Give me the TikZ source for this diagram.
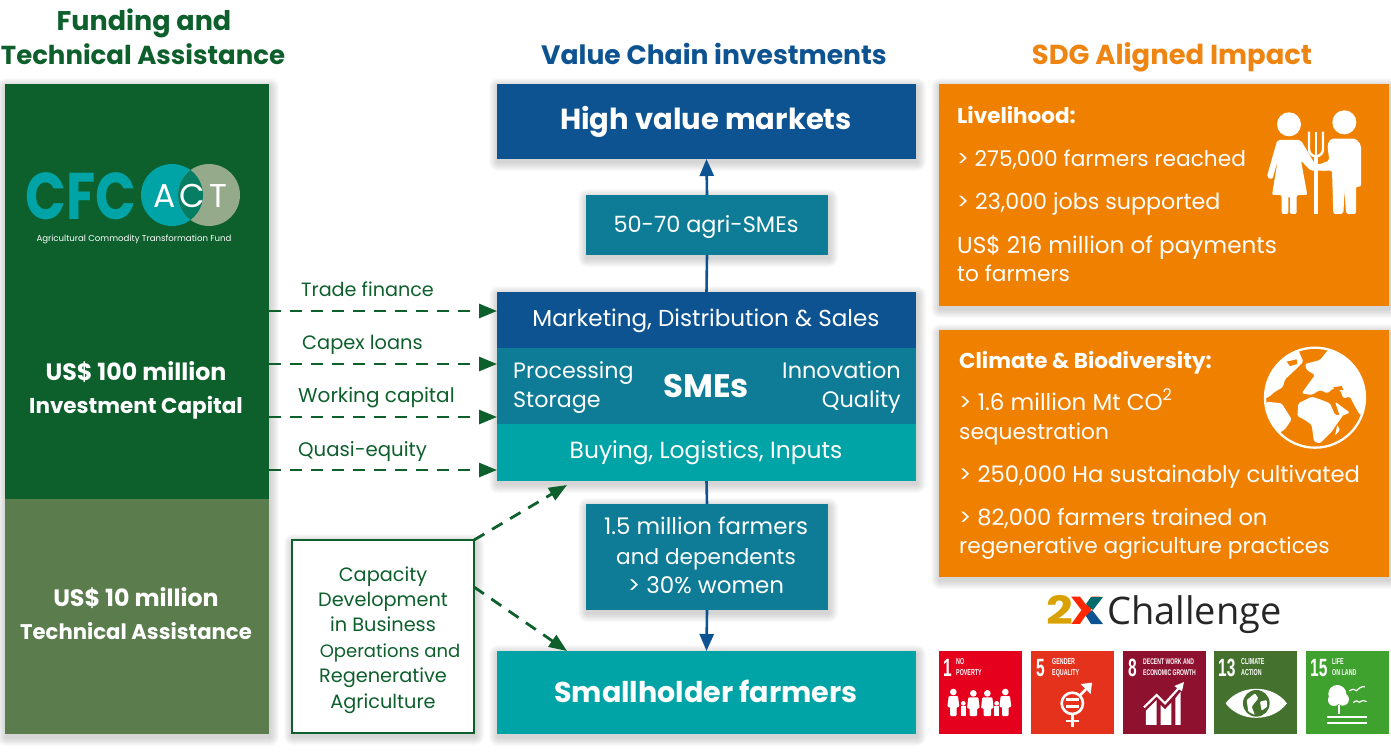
\documentclass[tikz,border=0pt]{standalone}
\usepackage{fontspec}
\usetikzlibrary{arrows.meta,calc}
\setmainfont{Poppins}
\newfontfamily\cond[FakeStretch=0.62]{Liberation Sans}
\newfontfamily\chal{Open Sans}
\definecolor{dgreen}{HTML}{0D5F2C}
\definecolor{lgreen}{HTML}{5B7D4D}
\definecolor{navy}{HTML}{0D5391}
\definecolor{tblue}{HTML}{0E7C96}
\definecolor{teal}{HTML}{00A3A6}
\definecolor{orng}{HTML}{F08000}
\definecolor{hdorng}{HTML}{EE8411}
\newcommand{\softshadow}[4]{\foreach \i in {1,...,9}{\fill[black,opacity=.018,rounded corners=\i pt] ({#1-\i+1},{#2-\i+3}) rectangle ({#3+\i+1},{#4+\i+3});}}
\newcommand{\fs}[1]{\fontsize{#1}{#1}\selectfont}
\tikzset{
 panel/.style={anchor=north west,inner sep=0,outer sep=0},
 wtxt/.style={text=white,inner sep=0,anchor=base},
 wleft/.style={text=white,inner sep=0,anchor=base west},
 gtxt/.style={text=dgreen,inner sep=0,anchor=base west,font=\fs{19.5}},
 cdtxt/.style={text=dgreen,inner sep=0,anchor=base,font=\fs{19.3}},
 flow/.style={draw=dgreen,line width=2.8pt,dash pattern=on 12pt off 9pt,-{Triangle[length=18pt,width=14pt]}},
 solidflow/.style={draw=navy,line width=2.6pt,-{Triangle[length=17pt,width=14pt]}},
 plainflow/.style={draw=navy,line width=2.6pt},
 head/.style={inner sep=0,anchor=base,font=\bfseries\fs{26.6}},
 body/.style={text=white,inner sep=0,anchor=base west,font=\fs{21.7}},
 bodyb/.style={text=white,inner sep=0,anchor=base west,font=\bfseries\fs{21.5}},
 tilet/.style={text=white,inner sep=0,anchor=base west,font=\cond\bfseries\fs{8.6}},
 tilen/.style={text=white,inner sep=0,anchor=base west,font=\cond\bfseries\fs{25}},
 ico/.style={shift={(#1)},x=.3333pt,y=-.3333pt},
}
\begin{document}
\begin{tikzpicture}[x=1pt,y=-1pt]
\useasboundingbox (0,0) rectangle (1391,753);
% shadows
\softshadow{5}{84}{269}{734}
\softshadow{497}{84}{916}{159}
\softshadow{586}{195}{828}{255}
\softshadow{497}{292}{916}{481}
\softshadow{586}{504}{828}{610}
\softshadow{497}{651}{916}{734}
\softshadow{939}{84}{1389}{306}
\softshadow{939}{330}{1389}{577}
\softshadow{292}{540}{474}{733}
% headings
\node[head,text=dgreen,font=\bfseries\fs{27}] (h1a) at (144,30) {Funding and};
\node[head,text=dgreen,font=\bfseries\fs{26}] (h1b) at (143,64) {Technical Assistance};
\node[head,text=navy] (h2) at (714,64) {Value Chain investments};
\node[head,text=hdorng,font=\bfseries\fs{27.4}] (h3) at (1172,64) {SDG Aligned Impact};
% left panels
\node[panel,fill=dgreen,minimum width=264pt,minimum height=415pt] (invest) at (5,84) {};
\node[panel,fill=lgreen,minimum width=264pt,minimum height=235pt] (ta) at (5,499) {};
\node[wtxt,font=\bfseries\fs{23.7}] (i1) at (136,380) {US\$ 100 million};
\node[wtxt,font=\bfseries\fs{21.5}] (i2) at (136,413) {Investment Capital};
\node[wtxt,font=\bfseries\fs{23.7}] (t1) at (136,606) {US\$ 10 million};
\node[wtxt,font=\bfseries\fs{21.2}] (t2) at (136,639) {Technical Assistance};
% logo
\node[inner sep=0,anchor=base,text=teal,font=\fs{66}\bfseries,xscale=.81] (cfc) at (81,219) {CFC};
\fill[fill=teal] (172,195) circle (31);
\fill[fill=lgreen!65!white] (209,195) circle (31);
\begin{scope}
\clip (172,195) circle (31);
\fill[fill=teal!45!dgreen] (209,195) circle (31);
\end{scope}
\node[wtxt,font=\fs{33}] (la) at (165,207) {A};
\node[wtxt,font=\fs{33}] (lc) at (192,207) {C};
\node[wtxt,font=\fs{33}] (lt) at (218,207) {T};
\node[wtxt,font=\fs{8.6}] (lsub) at (134,241) {Agricultural Commodity Transformation Fund};
% centre boxes
\node[panel,fill=navy,minimum width=419pt,minimum height=75pt] (hvm) at (497,84) {};
\node[wtxt,font=\bfseries\fs{29}] at (706,129) (hvmt) {High value markets};
\node[panel,fill=tblue,minimum width=242pt,minimum height=60pt] (agri) at (586,195) {};
\node[wtxt,font=\fs{22.4}] (agrit) at (706,232) {50-70 agri-SMEs};
\node[panel,fill=navy,minimum width=419pt,minimum height=56pt] (mkt) at (497,292) {};
\node[wtxt,font=\fs{23.1}] (mktt) at (706,326) {Marketing, Distribution \& Sales};
\node[panel,fill=tblue,minimum width=419pt,minimum height=76pt] (sme) at (497,348) {};
\node[wtxt,font=\bfseries\fs{32.5}] (smet) at (706,397) {SMEs};
\node[wleft,font=\fs{22.2}] (p1) at (513,378) {Processing};
\node[wleft,font=\fs{22.2}] (p2) at (513,407) {Storage};
\node[wtxt,anchor=base east,font=\fs{22.4}] (p3) at (901,378) {Innovation};
\node[wtxt,anchor=base east,font=\fs{22.4}] (p4) at (901,407) {Quality};
\node[panel,fill=teal,minimum width=419pt,minimum height=57pt] (buy) at (497,424) {};
\node[wtxt,font=\fs{23.4}] (buyt) at (706,458) {Buying, Logistics, Inputs};
\node[panel,fill=tblue,minimum width=242pt,minimum height=106pt] (farm) at (586,504) {};
\node[wtxt,font=\fs{22.9}] (f1) at (706,534) {1.5 million farmers};
\node[wtxt,font=\fs{21.6}] (f2) at (706,564) {and dependents};
\node[wtxt,font=\fs{23}] (f3) at (706,593) {> 30\% women};
\node[panel,fill=teal,minimum width=419pt,minimum height=83pt] (small) at (497,651) {};
\node[wtxt,font=\bfseries\fs{28.6}] (smallt) at (706,702) {Smallholder farmers};
% solid connectors
\draw[solidflow] (agri.north) -- (hvm.south);
\draw[plainflow] (mkt.north) -- (agri.south);
\draw[plainflow] (buy.south) -- (farm.north);
\draw[solidflow] (farm.south) -- (small.north);
% capacity box
\node[panel,draw=dgreen,line width=2.8pt,fill=white,minimum width=182pt,minimum height=193pt] (cap) at (292,540) {};
\node[cdtxt] (c1) at (383,581) {Capacity};
\node[cdtxt] (c2) at (383,606) {Development};
\node[cdtxt] (c3) at (383,631) {in Business};
\node[cdtxt,font=\fs{18}] (c4) at (390,657) {Operations and};
\node[cdtxt] (c5) at (383,682) {Regenerative};
\node[cdtxt] (c6) at (383,708) {Agriculture};
% dashed connectors
\coordinate (a1) at (invest.east |- 0,311);
\coordinate (a2) at (invest.east |- 0,364);
\coordinate (a3) at (invest.east |- 0,417);
\coordinate (a4) at (invest.east |- 0,470);
\draw[flow] (a1) -- (a1 -| mkt.west);
\draw[flow] (a2) -- (a2 -| sme.west);
\draw[flow] (a3) -- (a3 -| sme.west);
\draw[flow] (a4) -- (a4 -| buy.west);
\coordinate (b1) at (cap.north east);
\coordinate (b2) at (474,587);
\coordinate (b3) at (567,485);
\coordinate (b4) at (567,651);
\draw[flow] (b1) -- (b3);
\draw[flow] (b2) -- (b4);
\node[gtxt,font=\fs{19.2}] (l1) at (301,296) {Trade finance};
\node[gtxt,font=\fs{19.4}] (l2) at (302,349) {Capex loans};
\node[gtxt,font=\fs{20}] (l3) at (298,402) {Working capital};
\node[gtxt,font=\fs{19.7}] (l4) at (298,456) {Quasi-equity};
% orange
\node[panel,fill=orng,minimum width=450pt,minimum height=222pt] (o1) at (939,84) {};
\node[panel,fill=orng,minimum width=450pt,minimum height=247pt] (o2) at (939,330) {};
\node[bodyb] (o1a) at (957,123) {Livelihood:};
\node[body] (o1b) at (957,166) {> 275,000 farmers reached};
\node[body,font=\fs{22.2}] (o1c) at (957,209) {> 23,000 jobs supported};
\node[body,font=\fs{23.1}] (o1d) at (957,253) {US\$ 216 million of payments};
\node[body] (o1e) at (957,281) {to farmers};
\node[bodyb] (o2a) at (959,368) {Climate \& Biodiversity:};
\node[body,font=\fs{23}] (o2b) at (959,410) {> 1.6 million Mt CO\textsuperscript{2}};
\node[body] (o2c) at (959,439) {sequestration};
\node[body,font=\fs{22.7}] (o2d) at (959,482) {> 250,000 Ha sustainably cultivated};
\node[body,font=\fs{22.5}] (o2e) at (959,525) {> 82,000 farmers trained on};
\node[body] (o2f) at (959,553) {regenerative agriculture practices};
% farmers icon
\begin{scope}[ico={1240,90}]
\fill[white] (147,103) circle (36);
\fill[white] (313,97) circle (36);
\fill[white,rounded corners=2pt] (112,150) -- (182,150) -- (225,222) -- (262,222) -- (262,242) -- (212,242) -- (183,212) -- (202,315) -- (170,315) -- (170,372) -- (150,372) -- (150,318) -- (145,318) -- (145,372) -- (125,372) -- (125,315) -- (96,315) -- (113,212) -- (97,268) -- (80,262) -- cycle;
\fill[white,rounded corners=2pt] (272,146) -- (348,146) -- (363,165) -- (363,290) -- (348,290) -- (348,372) -- (318,372) -- (314,300) -- (310,372) -- (280,372) -- (276,242) -- (240,242) -- (240,222) -- (268,212) -- (262,165) -- cycle;
\draw[white,line width=2.4pt] (207,125) -- (207,178) arc[start angle=180,end angle=0,radius=21] -- (249,125);
\draw[white,line width=2.4pt] (228,125) -- (228,200);
\draw[white,line width=4pt] (228,195) -- (228,372);
\end{scope}
% globe icon
\begin{scope}[ico={1240,340}]
\draw[white,line width=2.3pt] (225,173) circle (150);
\begin{scope}
\clip (225,173) circle (150);
\fill[white,rounded corners=1.5pt] (195,72) -- (240,60) -- (268,25) -- (420,60) -- (420,230) -- (360,225) -- (345,200) -- (330,170) -- (310,175) -- (300,150) -- (280,145) -- (262,160) -- (240,150) -- (215,165) -- (185,160) -- (210,125) -- (225,105) -- (200,90) -- cycle;
\fill[orng] (280,142) -- (305,138) -- (310,150) -- (285,152) -- cycle;
\fill[white,rounded corners=1.5pt] (175,190) -- (215,170) -- (240,178) -- (270,190) -- (285,225) -- (310,225) -- (285,260) -- (275,275) -- (240,310) -- (222,305) -- (215,255) -- (195,240) -- (172,228) -- cycle;
\fill[white,rounded corners=1.5pt] (285,185) -- (330,218) -- (300,230) -- cycle;
\fill[white,rounded corners=1pt] (292,255) -- (300,270) -- (285,287) -- cycle;
\fill[white,rounded corners=1.5pt] (60,180) -- (60,100) -- (130,20) -- (175,30) -- (190,65) -- (160,95) -- (135,118) -- (128,142) -- (105,155) -- (85,172) -- cycle;
\fill[orng] (140,65) -- (170,58) -- (172,72) -- (150,78) -- cycle;
\fill[white,rounded corners=1.5pt] (80,185) -- (125,190) -- (155,238) -- (135,268) -- (112,282) -- (130,305) -- (100,275) -- (60,230) -- cycle;
\end{scope}
\end{scope}
% 2X Challenge
\node[inner sep=0,anchor=base east,text=orange!50!yellow!85!black,font=\bfseries\fs{39},xscale=1.2] (two) at (1073,624) {2};
\node[inner sep=0,anchor=base,text=red!70!orange,font=\bfseries\fs{39},xscale=1.15] (xx) at (1087,624) {X};
\fill[teal!65!black] (1086,604) -- (1091,597) -- (1103,597) -- (1093,610) -- cycle;
\fill[navy] (1086,616) -- (1092,610) -- (1103,624) -- (1091,624) -- cycle;
\node[inner sep=0,anchor=base west,text=black!85,font=\chal\fs{38}] (chal) at (1107,624) {Challenge};
% SDG tiles
\definecolor{s1}{HTML}{E5001E}\definecolor{s5}{HTML}{E5321D}\definecolor{s8}{HTML}{8E1130}\definecolor{s13}{HTML}{44722E}\definecolor{s15}{HTML}{3FA12E}
\node[panel,fill=s1,minimum width=83pt,minimum height=83pt] (g1) at (939,651) {};
\node[panel,fill=s5,minimum width=83pt,minimum height=83pt] (g5) at (1031,651) {};
\node[panel,fill=s8,minimum width=83pt,minimum height=83pt] (g8) at (1123,651) {};
\node[panel,fill=s13,minimum width=83pt,minimum height=83pt] (g13) at (1214,651) {};
\node[panel,fill=s15,minimum width=83pt,minimum height=83pt] (g15) at (1306,651) {};
\node[tilen] (n1) at (943,676) {1};
\node[tilet] (n1a) at (956,664) {NO};
\node[tilet] (n1b) at (956,675) {POVERTY};
\node[tilen] (n5) at (1036,676) {5};
\node[tilet] (n5a) at (1052,664) {GENDER};
\node[tilet] (n5b) at (1052,675) {EQUALITY};
\node[tilen] (n8) at (1128,676) {8};
\node[tilet,font=\cond\bfseries\fs{8.2}] (n8a) at (1143,664) {DECENT WORK AND};
\node[tilet,font=\cond\bfseries\fs{8.2}] (n8b) at (1143,675) {ECONOMIC GROWTH};
\node[tilen] (n13) at (1218,676) {13};
\node[tilet] (n13a) at (1241,664) {CLIMATE};
\node[tilet] (n13b) at (1241,675) {ACTION};
\node[tilen] (n15) at (1310,676) {15};
\node[tilet] (n15a) at (1332,664) {LIFE};
\node[tilet] (n15b) at (1332,675) {ON LAND};
% tile icons
\begin{scope}[ico={930,590}]
% people
\foreach \x/\t/\w in {70/296/14,130/300/15,172/300/15,226/296/14}{
 \fill[white] (\x,\t+10) circle (10);
 \fill[white,rounded corners=1pt] (\x-\w,\t+22) -- (\x+\w,\t+22) -- (\x+\w+4,\t+55) -- (\x+\w-4,\t+55) -- (\x+\w-4,378) -- (\x-\w+4,378) -- (\x-\w+4,\t+55) -- (\x-\w-4,\t+55) -- cycle;
}
\foreach \x in {100,200}{
 \fill[white] (\x,340) circle (7);
 \fill[white] (\x-8,349) rectangle (\x+8,378);
}
% gender
\draw[white,line width=2.6pt] (427,340) circle (32);
\fill[white] (407,324) rectangle (447,334);
\fill[white] (407,344) rectangle (447,354);
\draw[white,line width=2.6pt] (427,372) -- (427,410);
\draw[white,line width=2.6pt] (408,393) -- (446,393);
\draw[white,line width=2.6pt] (450,316) -- (480,285);
\fill[white] (452,282) -- (486,278) -- (482,312) -- cycle;
% chart
\fill[white] (648,405) -- (648,362) -- (680,330) -- (680,405) -- cycle;
\fill[white] (692,405) -- (692,345) -- (705,358) -- (724,338) -- (724,405) -- cycle;
\fill[white] (736,405) -- (736,325) -- (752,305) -- (752,405) -- cycle;
\draw[white,line width=2.2pt] (642,352) -- (680,315) -- (705,340) -- (752,288);
\fill[white] (733,288) -- (762,276) -- (756,304) -- cycle;
% eye
\fill[white] (887,340) .. controls (930,282) and (1028,282) .. (1071,340) .. controls (1028,398) and (930,398) .. (887,340) -- cycle;
\fill[s13] (979,340) circle (40);
\fill[white,rounded corners=1pt] (950,330) -- (975,310) -- (985,325) -- (965,350) -- (975,375) -- (955,365) -- cycle;
\fill[white,rounded corners=1pt] (990,335) -- (1010,330) -- (1012,350) -- (995,362) -- cycle;
% tree
\fill[white] (1222,312) circle (27);
\fill[white] (1212,330) circle (18);
\fill[white] (1238,328) circle (19);
\fill[white] (1223,345) rectangle (1231,372);
\fill[white] (1190,378) rectangle (1312,385);
\fill[white] (1190,396) rectangle (1312,403);
\draw[white,line width=1.2pt] (1258,303) .. controls (1268,295) and (1275,298) .. (1280,302) .. controls (1285,296) and (1295,288) .. (1305,290);
\draw[white,line width=1.2pt] (1270,338) .. controls (1278,330) and (1284,332) .. (1288,337) .. controls (1292,332) and (1300,330) .. (1310,335);
\end{scope}
\end{tikzpicture}
\end{document}
